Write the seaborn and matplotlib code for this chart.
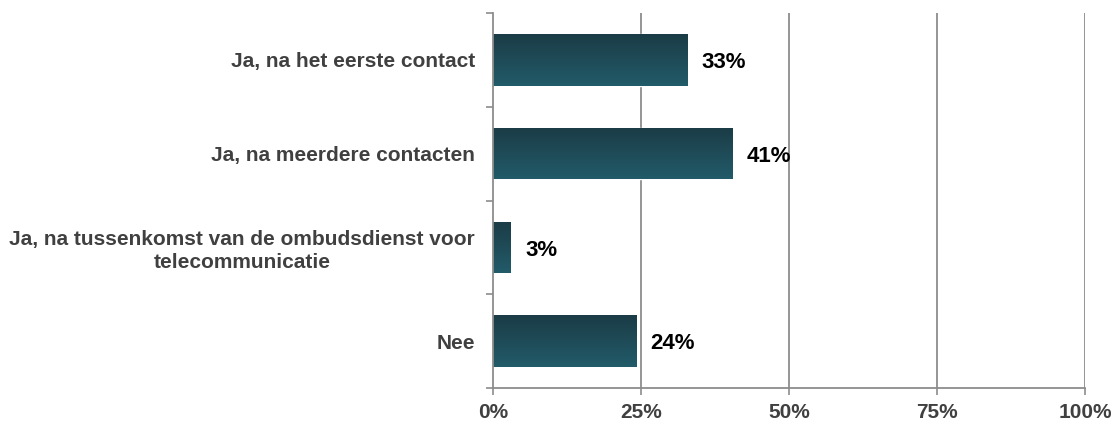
import numpy as np
import pandas as pd
import seaborn as sns
import matplotlib
matplotlib.use("Agg")
from matplotlib import pyplot as plt
from matplotlib.colors import LinearSegmentedColormap

categories = ["Ja, na het eerste contact",
              "Ja, na meerdere contacten",
              "Ja, na tussenkomst van de ombudsdienst voor\ntelecommunicatie",
              "Nee"]
values = [0.328, 0.405, 0.030, 0.242]
value_labels = ["33%", "41%", "3%", "24%"]
xticks = [0, 0.25, 0.5, 0.75, 1.0]
xtick_labels = ["0%", "25%", "50%", "75%", "100%"]

sns.set_style("white")
plt.rcParams["font.family"] = ["Liberation Sans", "DejaVu Sans"]

df = pd.DataFrame({"cat": categories, "val": values})

fig = plt.figure(figsize=(11.17, 4.23), dpi=100)
ax = fig.add_axes([0.4414, 0.0827, 0.53, 0.8863])

sns.barplot(data=df, y="cat", x="val", color="#225a68", width=0.55, ax=ax,
            saturation=1)

# vertical gradient on each bar
cmap = LinearSegmentedColormap.from_list("bar", ["#1b3c46", "#225b69"])
grad = np.linspace(0, 1, 64).reshape(-1, 1)
for p in ax.patches:
    x0, y0 = p.get_x(), p.get_y()
    w, h = p.get_width(), p.get_height()
    im = ax.imshow(grad, cmap=cmap, aspect="auto", origin="upper",
                   extent=[x0, x0 + w, y0 + h, y0], zorder=p.get_zorder())
    im.set_clip_path(p)
    p.set_facecolor("none")

ax.set_xlim(0, 1.0)
ax.set_ylim(3.5, -0.5)
ax.set_xticks(xticks)
ax.set_xticklabels(xtick_labels, fontsize=15, fontweight="bold", color="#404040")
ax.set_yticks(range(len(categories)))
ax.set_yticklabels(categories, fontsize=15, fontweight="bold", color="#404040",
                   multialignment="center", linespacing=1.25)
ax.set_yticks([-0.5, 0.5, 1.5, 2.5, 3.5], minor=True)
ax.tick_params(axis="y", which="major", left=True, length=0, pad=13)
ax.tick_params(axis="y", which="minor", left=True, length=5, color="#8c8c8c", width=1.2)
ax.tick_params(axis="x", bottom=True, length=5, color="#8c8c8c", width=1.2, pad=6)
ax.set_xlabel("")
ax.set_ylabel("")

for x in xticks[1:]:
    ax.axvline(x, color="#8c8c8c", lw=1.3, zorder=0)

for s in ["top", "right"]:
    ax.spines[s].set_visible(False)
for s in ["left", "bottom"]:
    ax.spines[s].set_color("#8c8c8c")
    ax.spines[s].set_linewidth(1.3)

for i, (v, lab) in enumerate(zip(values, value_labels)):
    ax.text(v + 0.024, i + 0.03, lab, va="center", ha="left", fontsize=16,
            fontweight="bold", color="black")

fig.savefig("out.png", dpi=100)
